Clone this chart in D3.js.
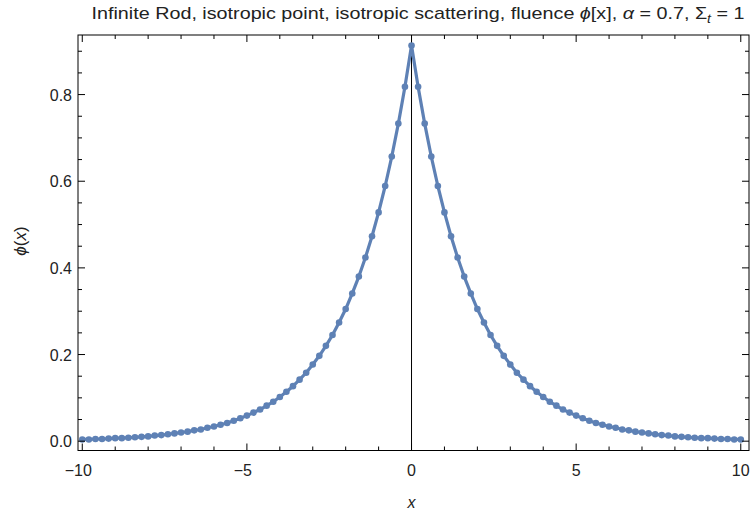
<!DOCTYPE html>
<html>
<head>
<meta charset="utf-8">
<script src="https://cdn.jsdelivr.net/npm/d3@7"></script>
<style>
  html, body { margin: 0; padding: 0; background: #fff; }
  svg { display: block; font-family: "Liberation Sans", Arial, sans-serif; }
</style>
</head>
<body>
<svg id="chart" width="751" height="517"></svg>
<script>
// Sample positions along the rod (step 0.2)
const xs = [
  -10.0, -9.8, -9.6, -9.4, -9.2, -9.0, -8.8, -8.6, -8.4, -8.2,
  -8.0, -7.8, -7.6, -7.4, -7.2, -7.0, -6.8, -6.6, -6.4, -6.2,
  -6.0, -5.8, -5.6, -5.4, -5.2, -5.0, -4.8, -4.6, -4.4, -4.2,
  -4.0, -3.8, -3.6, -3.4, -3.2, -3.0, -2.8, -2.6, -2.4, -2.2,
  -2.0, -1.8, -1.6, -1.4, -1.2, -1.0, -0.8, -0.6, -0.4, -0.2,
  0.0,
  0.2, 0.4, 0.6, 0.8, 1.0, 1.2, 1.4, 1.6, 1.8, 2.0,
  2.2, 2.4, 2.6, 2.8, 3.0, 3.2, 3.4, 3.6, 3.8, 4.0,
  4.2, 4.4, 4.6, 4.8, 5.0, 5.2, 5.4, 5.6, 5.8, 6.0,
  6.2, 6.4, 6.6, 6.8, 7.0, 7.2, 7.4, 7.6, 7.8, 8.0,
  8.2, 8.4, 8.6, 8.8, 9.0, 9.2, 9.4, 9.6, 9.8, 10.0
];

// Fluence phi(x) at each sample
const phi = [
  0.004, 0.004, 0.005, 0.005, 0.006, 0.007, 0.007, 0.008, 0.009, 0.010,
  0.011, 0.013, 0.014, 0.016, 0.018, 0.020, 0.022, 0.025, 0.027, 0.031,
  0.034, 0.038, 0.042, 0.047, 0.053, 0.059, 0.066, 0.073, 0.082, 0.091,
  0.102, 0.114, 0.127, 0.142, 0.158, 0.177, 0.197, 0.220, 0.245, 0.274,
  0.305, 0.341, 0.380, 0.424, 0.473, 0.528, 0.589, 0.657, 0.733, 0.818,
  0.913,
  0.818, 0.733, 0.657, 0.589, 0.528, 0.473, 0.424, 0.380, 0.341, 0.305,
  0.274, 0.245, 0.220, 0.197, 0.177, 0.158, 0.142, 0.127, 0.114, 0.102,
  0.091, 0.082, 0.073, 0.066, 0.059, 0.053, 0.047, 0.042, 0.038, 0.034,
  0.031, 0.027, 0.025, 0.022, 0.020, 0.018, 0.016, 0.014, 0.013, 0.011,
  0.010, 0.009, 0.008, 0.007, 0.007, 0.006, 0.005, 0.005, 0.004, 0.004
];

// Tick values
const xMajorTicks = [-10, -5, 0, 5, 10];
const xMinorTicks = [-9, -8, -7, -6, -4, -3, -2, -1, 1, 2, 3, 4, 6, 7, 8, 9];
const yMajorTicks = [0.0, 0.2, 0.4, 0.6, 0.8];
const yMinorTicks = [0.05, 0.1, 0.15, 0.25, 0.3, 0.35, 0.45, 0.5, 0.55, 0.65, 0.7, 0.75, 0.85, 0.9];

const data = xs.map((x, i) => ({ x, y: phi[i] }));

const svg = d3.select("#chart");
const lineColor = "#5E81B5";

const x = d3.scaleLinear().domain([-10.13, 10.25]).range([78, 749]);
const y = d3.scaleLinear().domain([-0.0215, 0.9375]).range([450.5, 35]);

const [x0, x1] = x.range();
const [yb, yt] = y.range();

// Title
const title = svg.append("text")
  .attr("x", 418).attr("y", 19)
  .attr("text-anchor", "middle")
  .attr("font-size", 17)
  .attr("fill", "#222")
  .attr("textLength", 653)
  .attr("lengthAdjust", "spacingAndGlyphs");
title.append("tspan").text("Infinite Rod, isotropic point, isotropic scattering, fluence ");
title.append("tspan").attr("font-style", "italic").text("ϕ");
title.append("tspan").text("[x], ");
title.append("tspan").attr("font-style", "italic").text("α");
title.append("tspan").text(" = 0.7, Σ");
title.append("tspan").attr("font-style", "italic").attr("font-size", 12).attr("dy", 4).text("t");
title.append("tspan").attr("dy", -4).text(" = 1");

// Vertical axis line at x = 0
svg.append("line")
  .attr("x1", x(0)).attr("x2", x(0))
  .attr("y1", yt).attr("y2", yb)
  .attr("stroke", "#000").attr("stroke-width", 1);

// Data: joined line with point markers
svg.append("path")
  .datum(data)
  .attr("fill", "none")
  .attr("stroke", lineColor)
  .attr("stroke-width", 3.2)
  .attr("stroke-linejoin", "round")
  .attr("d", d3.line().x(d => x(d.x)).y(d => y(d.y)));

svg.append("g").selectAll("circle")
  .data(data)
  .enter().append("circle")
  .attr("cx", d => x(d.x))
  .attr("cy", d => y(d.y))
  .attr("r", 3.3)
  .attr("fill", lineColor);

// Frame
svg.append("rect")
  .attr("x", x0).attr("y", yt)
  .attr("width", x1 - x0).attr("height", yb - yt)
  .attr("fill", "none").attr("stroke", "#000").attr("stroke-width", 1);

const majorLen = 7, minorLen = 4;
const ticks = svg.append("g").attr("stroke", "#000").attr("stroke-width", 1);

// Bottom and top ticks
xMajorTicks.forEach(v => {
  ticks.append("line").attr("x1", x(v)).attr("x2", x(v)).attr("y1", yb).attr("y2", yb - majorLen);
  ticks.append("line").attr("x1", x(v)).attr("x2", x(v)).attr("y1", yt).attr("y2", yt + majorLen);
});
xMinorTicks.forEach(v => {
  ticks.append("line").attr("x1", x(v)).attr("x2", x(v)).attr("y1", yb).attr("y2", yb - minorLen);
  ticks.append("line").attr("x1", x(v)).attr("x2", x(v)).attr("y1", yt).attr("y2", yt + minorLen);
});
// Left and right ticks
yMajorTicks.forEach(v => {
  ticks.append("line").attr("x1", x0).attr("x2", x0 + majorLen).attr("y1", y(v)).attr("y2", y(v));
  ticks.append("line").attr("x1", x1).attr("x2", x1 - majorLen).attr("y1", y(v)).attr("y2", y(v));
});
yMinorTicks.forEach(v => {
  ticks.append("line").attr("x1", x0).attr("x2", x0 + minorLen).attr("y1", y(v)).attr("y2", y(v));
  ticks.append("line").attr("x1", x1).attr("x2", x1 - minorLen).attr("y1", y(v)).attr("y2", y(v));
});

// Tick labels
const fmtX = v => (v < 0 ? "\u2212" + Math.abs(v) : String(v));
svg.append("g").selectAll("text")
  .data(xMajorTicks)
  .enter().append("text")
  .attr("x", d => x(d) - (d < 0 ? 4 : 0))
  .attr("y", yb + 25)
  .attr("text-anchor", "middle")
  .attr("font-size", 16)
  .attr("fill", "#222")
  .text(fmtX);

svg.append("g").selectAll("text")
  .data(yMajorTicks)
  .enter().append("text")
  .attr("x", x0 - 6)
  .attr("y", d => y(d) + 6)
  .attr("text-anchor", "end")
  .attr("font-size", 16)
  .attr("fill", "#222")
  .text(d => d3.format(".1f")(d));

// Axis labels
svg.append("text")
  .attr("x", x(0)).attr("y", 508)
  .attr("text-anchor", "middle")
  .attr("font-size", 16)
  .attr("font-style", "italic")
  .attr("fill", "#222")
  .text("x");

const yl = svg.append("text")
  .attr("transform", "translate(26,241) rotate(-90)")
  .attr("text-anchor", "middle")
  .attr("font-size", 17)
  .attr("fill", "#222");
yl.append("tspan").attr("font-style", "italic").text("ϕ");
yl.append("tspan").text("(");
yl.append("tspan").attr("font-style", "italic").text("x");
yl.append("tspan").text(")");
</script>
</body>
</html>
